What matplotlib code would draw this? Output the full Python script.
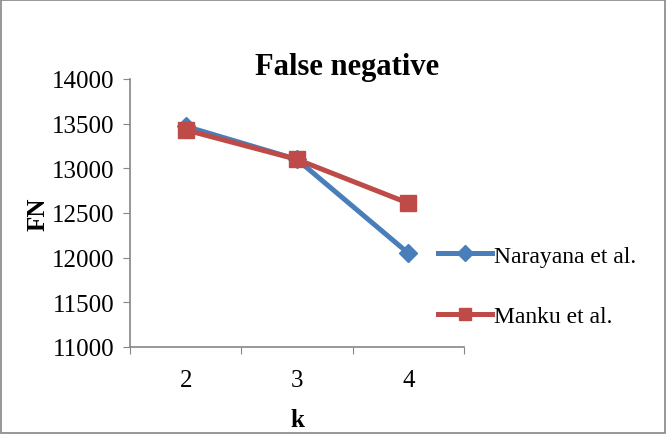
import matplotlib
matplotlib.use("Agg")
import matplotlib.pyplot as plt
from matplotlib.patches import Rectangle

plt.rcParams['font.family'] = ['Liberation Serif', 'DejaVu Serif']

categories = ["2", "3", "4"]
narayana = [13470, 13100, 12050]
manku = [13430, 13100, 12610]
yticks = [11000, 11500, 12000, 12500, 13000, 13500, 14000]

fig = plt.figure(figsize=(6.66, 4.35), dpi=100)
ax = fig.add_axes([130/666, 1-348/435, (464-130)/666, (348-80)/435])

x = [0.5, 1.5, 2.5]
blue = '#4a7ebb'
red = '#be4b48'
l1, = ax.plot(x, narayana, color=blue, lw=3.6, marker='D', markersize=9, label='Narayana et al.')
l2, = ax.plot(x, manku, color=red, lw=3.6, marker='s', markersize=11, label='Manku et al.')

ax.set_xlim(0, 3)
ax.set_ylim(11000, 14000)
ax.set_yticks(yticks)
ax.set_yticklabels([str(v) for v in yticks])
ax.set_xticks([0, 1, 2, 3])
ax.set_xticklabels([])
ax.set_xticks(x, minor=True)
ax.set_xticklabels(categories, minor=True)
ax.tick_params(axis='x', which='minor', length=0, labelsize=18, pad=16)
ax.tick_params(axis='x', which='major', length=5, color='#868686', direction='out')
ax.tick_params(axis='y', length=5, color='#868686', labelsize=18, pad=6)
for s in ['top', 'right']:
    ax.spines[s].set_visible(False)
for s in ['left', 'bottom']:
    ax.spines[s].set_color('#868686')
    ax.spines[s].set_linewidth(1.2)

ax.set_xlabel('k', fontsize=18, fontweight='bold', labelpad=12)
ax.set_ylabel('FN', fontsize=18, fontweight='bold', labelpad=2)
fig.text(347/666, 1-67/435, 'False negative', fontsize=22, fontweight='bold', ha='center', va='center')

leg = fig.legend(handles=[l1, l2], loc='center left', bbox_to_anchor=(438/666, 1-287/435),
                 frameon=False, fontsize=17, handlelength=2.3, handletextpad=0.08,
                 labelspacing=1.65, borderaxespad=0, borderpad=0, markerscale=0.85)

fig.patches.append(Rectangle((0.002, 0.002), 0.996, 0.996, transform=fig.transFigure,
                             fill=False, edgecolor='#868686', lw=1.2))
fig.savefig('out.png', dpi=100)
